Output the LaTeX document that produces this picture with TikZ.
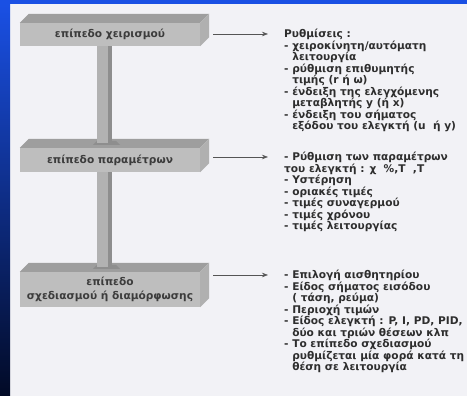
\documentclass[tikz,border=0pt]{standalone}
\usepackage{fontspec}
\setmainfont{DejaVu Sans}
\usetikzlibrary{arrows.meta}
\definecolor{panel}{HTML}{F2F2F6}
\definecolor{bandblue}{HTML}{1A50E4}
\definecolor{stripdark}{HTML}{020A26}
\definecolor{boxfront}{HTML}{BEBEBE}
\definecolor{boxtop}{HTML}{9E9E9E}
\definecolor{boxside}{HTML}{B0B0B0}
\definecolor{stemfront}{HTML}{B2B2B2}
\definecolor{stemside}{HTML}{8E8E8E}
\definecolor{boxtext}{HTML}{3C3C3C}
\definecolor{infotext}{HTML}{2E2E2E}
\definecolor{linkgray}{HTML}{555555}
\newcommand{\hang}{\hphantom{- }}

\begin{document}
\begin{tikzpicture}[x=1pt,y=1pt,
    level/.style={fill=boxfront, minimum width=180pt, inner sep=0pt, align=center,
        text=boxtext, font=\bfseries\fontsize{10.6}{13.5}\selectfont},
    info/.style={anchor=north west, inner sep=0pt, align=left,
        text=infotext, font=\bfseries\fontsize{10.6}{11.5}\selectfont},
    link/.style={draw=linkgray, line width=0.6pt, shorten <=13pt,
        -{Stealth[length=6pt,width=4.5pt]}}]

        % background frame
        \useasboundingbox (0,0) rectangle (467,396);
        \fill[panel] (0,0) rectangle (467,396);
        \fill[bandblue] (0,392) rectangle (467,396);
        \shade[top color=bandblue, bottom color=stripdark] (0,0) rectangle (10,392);

        % the three levels
        \node[level, minimum height=23pt] (b1) at (110,361.5) {επίπεδο χειρισμού};
        \node[level, minimum height=24pt] (b2) at (110,236) {επίπεδο παραμέτρων};
        \node[level, minimum height=35pt] (b3) at (110,106.5) {επίπεδο\\σχεδιασμού ή διαμόρφωσης};

        \foreach \b in {b1,b2,b3} {
            \fill[boxtop] (\b.north west) -- ++(9,9) -- ([shift={(9,9)}]\b.north east) -- (\b.north east) -- cycle;
            \fill[boxside] (\b.north east) -- ++(9,9) -- ([shift={(9,9)}]\b.south east) -- (\b.south east) -- cycle;
        }

        % columns between the levels
        \foreach \u/\l in {b1/b2,b2/b3} {
            \fill[stemside] ([shift={(-17,3)}]\l.north) -- ++(4,4) -- ++(19,0) -- ++(4,-4) -- cycle;
            \fill[stemfront] ([xshift=-13]\u.south) rectangle ([shift={(-2,5)}]\l.north);
            \fill[stemside] ([xshift=-2]\u.south) rectangle ([shift={(2,5)}]\l.north);
        }

        % settings of each level
        \node[info] (t1) at (284,367) {Ρυθμίσεις :\\
            - χειροκίνητη/αυτόματη\\ \hang λειτουργία\\
            - ρύθμιση επιθυμητής\\ \hang τιμής (r ή ω)\\
            - ένδειξη της ελεγχόμενης\\ \hang μεταβλητής y (ή x)\\
            - ένδειξη του σήματος\\ \hang εξόδου του ελεγκτή (u\ \ ή y)};
        \node[info] (t2) at (284,244) {- Ρύθμιση των παραμέτρων\\
            του ελεγκτή : χ\ \ \%,Τ\ \ ,Τ\\
            - Υστέρηση\\
            - οριακές τιμές\\
            - τιμές συναγερμού\\
            - τιμές χρόνου\\
            - τιμές λειτουργίας};
        \node[info] (t3) at (284,126) {- Επιλογή αισθητηρίου\\
            - Είδος σήματος εισόδου\\ \hang ( τάση, ρεύμα)\\
            - Περιοχή τιμών\\
            - Είδος ελεγκτή : P, I, PD, PID,\\ \hang δύο και τριών θέσεων κλπ\\
            - Το επίπεδο σχεδιασμού\\ \hang ρυθμίζεται μία φορά κατά τη\\ \hang θέση σε λειτουργία};

        \foreach \t/\b in {t1/b1,t2/b2,t3/b3} {
            \coordinate (a\t) at ([shift={(-16,-5)}]\t.north west);
            \draw[link] (\b.east |- a\t) -- (a\t);
        }

\end{tikzpicture}
\end{document}
